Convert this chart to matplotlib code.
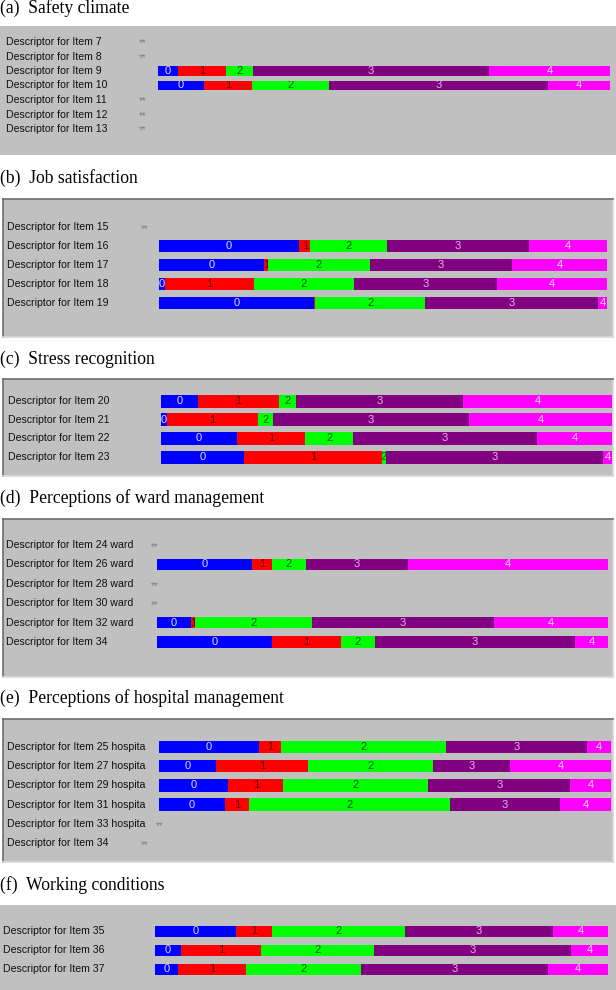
import numpy as np
import matplotlib.pyplot as plt
from matplotlib.transforms import Bbox, TransformedBbox

plt.rcParams['font.family'] = ['Liberation Sans', 'DejaVu Sans']

# percentage of answers in categories 0..4, None = item not shown (**)
titles = ['(a)  Safety climate', '(b)  Job satisfaction', '(c)  Stress recognition',
          '(d)  Perceptions of ward management', '(e)  Perceptions of hospital management',
          '(f)  Working conditions']

items_a = ['Descriptor for Item 7', 'Descriptor for Item 8', 'Descriptor for Item 9',
           'Descriptor for Item 10', 'Descriptor for Item 11', 'Descriptor for Item 12',
           'Descriptor for Item 13']
values_a = [None, None,
            [4.4, 10.6, 6.0, 52.2, 26.8],
            [10.2, 10.6, 17.0, 48.5, 13.7],
            None, None, None]

items_b = ['Descriptor for Item 15', 'Descriptor for Item 16', 'Descriptor for Item 17',
           'Descriptor for Item 18', 'Descriptor for Item 19']
values_b = [None,
            [31.3, 2.5, 17.0, 31.7, 17.5],
            [23.4, 0.9, 22.8, 31.7, 21.2],
            [1.3, 19.9, 22.3, 31.9, 24.6],
            [34.6, 0.3, 24.5, 38.6, 2.0]]

items_c = ['Descriptor for Item 20', 'Descriptor for Item 21', 'Descriptor for Item 22',
           'Descriptor for Item 23']
values_c = [[8.2, 18.0, 3.8, 37.0, 33.0],
            [1.3, 20.2, 3.3, 43.5, 31.7],
            [16.9, 15.1, 10.6, 40.8, 16.6],
            [18.4, 30.6, 0.9, 48.1, 2.0]]

items_d = ['Descriptor for Item 24 ward', 'Descriptor for Item 26 ward',
           'Descriptor for Item 28 ward', 'Descriptor for Item 30 ward',
           'Descriptor for Item 32 ward', 'Descriptor for Item 34']
values_d = [None,
            [21.1, 4.4, 7.5, 22.7, 44.3],
            None, None,
            [7.5, 0.9, 25.9, 40.4, 25.3],
            [25.5, 15.3, 7.5, 44.4, 7.3]]

items_e = ['Descriptor for Item 25 hospita', 'Descriptor for Item 27 hospita',
           'Descriptor for Item 29 hospita', 'Descriptor for Item 31 hospita',
           'Descriptor for Item 33 hospita', 'Descriptor for Item 34']
values_e = [[22.1, 4.9, 36.5, 31.2, 5.3],
            [12.6, 20.4, 27.7, 17.0, 22.3],
            [15.3, 12.2, 32.1, 31.4, 9.0],
            [14.6, 5.3, 44.5, 24.3, 11.3],
            None, None]

items_f = ['Descriptor for Item 35', 'Descriptor for Item 36', 'Descriptor for Item 37']
values_f = [[17.9, 7.9, 29.4, 32.7, 12.1],
            [5.7, 17.7, 24.9, 43.5, 8.2],
            [5.1, 15.0, 25.4, 41.3, 13.2]]

categories = ['0', '1', '2', '3', '4']
cat_colors = ['#0000ff', '#ff0000', '#00ff00', '#800080', '#ff00ff']
num_colors = ['#dcdcff', '#5a0000', '#005a00', '#e6b4e6', '#ffe0ff']

W, H = 616, 990
fig = plt.figure(figsize=(W / 100, H / 100), dpi=100)
renderer = fig.canvas.get_renderer()

# layout in pixels: title_y, top, bottom, x0, x1, bar_start, bar_end, first_row, step,
# label_x, star_x, font size, bar height, sunken border
layout = [
    (8, 26, 155, 0, 616, 158, 610, 42, 14.5, 6, 139, 7.6, 9.5, False),
    (178, 199, 337, 3, 613, 159, 607, 227, 19.0, 7, 141, 7.6, 12, True),
    (359, 379, 476, 3, 613, 161, 612, 401, 18.7, 8, 141, 7.6, 13, True),
    (498, 519, 677, 3, 613, 157, 608, 545, 19.4, 6, 151, 7.6, 11.5, True),
    (698, 719, 862, 3, 613, 159, 611, 747, 19.2, 7, 141, 7.6, 12.5, True),
    (885, 905, 990, 0, 616, 155, 608, 931, 19.0, 3, 141, 7.6, 11, False),
]
panels = [(items_a, values_a), (items_b, values_b), (items_c, values_c),
          (items_d, values_d), (items_e, values_e), (items_f, values_f)]

for title, (items, values), lay in zip(titles, panels, layout):
    ty, top, bot, x0, x1, bs, be, first, step, lx, sx, fs, bh, sunken = lay
    fig.text(0, 1 - ty / H, title, family='Liberation Serif', fontsize=12.7,
             va='center', ha='left')
    ax = fig.add_axes([x0 / W, 1 - bot / H, (x1 - x0) / W, (bot - top) / H])
    ax.set_facecolor('#c0c0c0')
    k = 100 / (be - bs)
    ax.set_xlim((x0 - bs) * k, (x1 - bs) * k)
    ax.set_ylim((bot - first) / step, (top - first) / step)
    ax.set_xticks([])
    ax.set_yticks([])
    for side, sp in ax.spines.items():
        sp.set_linewidth(1.2)
        if sunken and side in ('top', 'left'):
            sp.set_color('#6e6e6e')
        elif sunken:
            sp.set_color('#d8d8d8')
        else:
            sp.set_visible(False)

    for i, (name, vals) in enumerate(zip(items, values)):
        lab = ax.text((lx - bs) * k, i, name, fontsize=fs, va='center', ha='left',
                      color='#101010')
        if vals is None:
            # place the ** marker after the label, at least at the panel column
            end_px = lab.get_window_extent(renderer).x1 - x0 + 10
            star = max(sx - x0, end_px) + x0
            ax.text((star - bs) * k, i + 0.1, '**', fontsize=7, va='center',
                    ha='left', color='#808080')
            continue
        vals = np.array(vals)
        lefts = np.concatenate([[0], np.cumsum(vals)[:-1]])
        h = bh / step
        ax.barh(i, vals, left=lefts, height=h, color=cat_colors, linewidth=0)
        for c, (v, l) in enumerate(zip(vals, lefts)):
            if v < 0.5:
                continue
            t = ax.text(l + v / 2, i, categories[c], fontsize=fs + 0.4, ha='center',
                        va='center', color=num_colors[c])
            t.set_clip_box(TransformedBbox(Bbox.from_extents(l, i - h / 2, l + v, i + h / 2),
                                           ax.transData))
            t.set_clip_on(True)

fig.savefig('out.png', dpi=100, facecolor='white')
